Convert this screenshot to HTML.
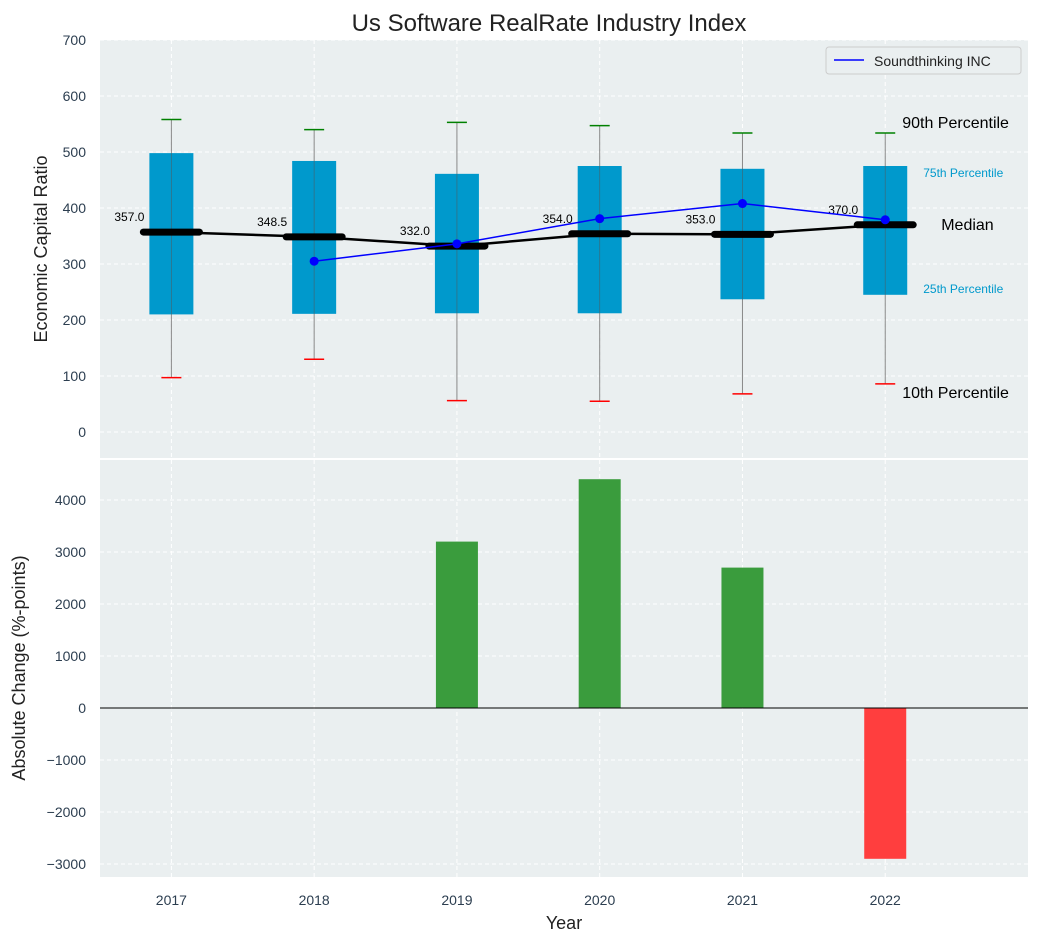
<!DOCTYPE html>
<html><head><meta charset="utf-8"><style>
body{margin:0;background:#fff;font-family:"Liberation Sans","DejaVu Sans",sans-serif}
</style></head><body>
<svg id="c" width="1039" height="942" xmlns="http://www.w3.org/2000/svg"></svg>
<script>
const years=["2017","2018","2019","2020","2021","2022"];
const q1=[210,211,212,212,237,245];
const q3=[498,484,461,475,470,475];
const p10=[97,130,56,55,68,86];
const p90=[558,540,553,547,534,534];
const medians=[357.0,348.5,332.0,354.0,353.0,370.0];
const company=[null,305,336,381,408,379];
const changes=[null,null,3200,4400,2700,-2900];
const topTicks=[0,100,200,300,400,500,600,700];
const botTicks=[-3000,-2000,-1000,0,1000,2000,3000,4000];

const svg=document.getElementById('c');
const NS='http://www.w3.org/2000/svg';
function el(tag,attrs,parent,text){const e=document.createElementNS(NS,tag);for(const k in attrs)e.setAttribute(k,attrs[k]);if(text!==undefined)e.textContent=text;(parent||svg).appendChild(e);return e;}
const L=100,R=1028;
const x=i=>L+(i+0.5)/6.5*(R-L);
const yT=v=>432-v*0.56;
const yB=v=>708-v*0.052;
let bg1=el('rect',{x:L,y:40,width:R-L,height:418,fill:'#eaeff0'});

let bg2=el('rect',{x:L,y:460,width:R-L,height:417,fill:'#eaeff0'});

years.forEach((yr,i)=>{
 el('line',{x1:x(i),x2:x(i),y1:40,y2:458,stroke:'#fff','stroke-dasharray':'4,3'});
 el('line',{x1:x(i),x2:x(i),y1:460,y2:877,stroke:'#fff','stroke-dasharray':'4,3'});
 const t=el('text',{x:x(i),y:905,'text-anchor':'middle','font-size':14,fill:'#2c3e50'},svg,yr);
 
});
topTicks.forEach(v=>{
 el('line',{x1:L,x2:R,y1:yT(v),y2:yT(v),stroke:'#fff','stroke-dasharray':'4,3'});
 const t=el('text',{x:86,y:yT(v)+5,'text-anchor':'end','font-size':14,fill:'#2c3e50'},svg,String(v));
 
});
botTicks.forEach(v=>{
 el('line',{x1:L,x2:R,y1:yB(v),y2:yB(v),stroke:'#fff','stroke-dasharray':'4,3'});
 const t=el('text',{x:86,y:yB(v)+5,'text-anchor':'end','font-size':14,fill:'#2c3e50'},svg,String(v).replace('-','\u2212'));
 
});
years.forEach((yr,i)=>{
 const cx=x(i);
 let w=el('line',{x1:cx,x2:cx,y1:yT(p90[i]),y2:yT(p10[i]),stroke:'#888','stroke-width':1});
 
 let b=el('rect',{x:cx-22,y:yT(q3[i]),width:44,height:yT(q1[i])-yT(q3[i]),fill:'#0099cc'});
 
 el('line',{x1:cx,x2:cx,y1:yT(q3[i]),y2:yT(q1[i]),stroke:'#555','stroke-width':0.8,opacity:0.6});
 let a=el('line',{x1:cx-10,x2:cx+10,y1:yT(p90[i]),y2:yT(p90[i]),stroke:'green','stroke-width':1.5});
 
 let c=el('line',{x1:cx-10,x2:cx+10,y1:yT(p10[i]),y2:yT(p10[i]),stroke:'red','stroke-width':1.5});
 
});
let mp=el('polyline',{points:medians.map((m,i)=>x(i)+','+yT(m)).join(' '),fill:'none',stroke:'#000','stroke-width':2.5});

medians.forEach((m,i)=>{
 let s=el('line',{x1:x(i)-28,x2:x(i)+28,y1:yT(m),y2:yT(m),stroke:'#000','stroke-width':7,'stroke-linecap':'round'});
 
 let t=el('text',{x:x(i)-42,y:yT(m)-11,'text-anchor':'middle','font-size':12,fill:'#000'},svg,m.toFixed(1));
 
});
const pts=company.map((v,i)=>v==null?null:[x(i),yT(v)]).filter(p=>p);
let cl=el('polyline',{points:pts.map(p=>p.join(',')).join(' '),fill:'none',stroke:'#0000ff','stroke-width':1.5});

pts.forEach(p=>{let d=el('circle',{cx:p[0],cy:p[1],r:4.5,fill:'#0000ff'});
 });
const lx=x(5);
[['90th Percentile',lx+17,128,16,'#000'],['75th Percentile',lx+38,177,12,'#0099cc'],['Median',lx+56,230,16,'#000'],['25th Percentile',lx+38,293,12,'#0099cc'],['10th Percentile',lx+17,398,16,'#000']].forEach(a=>{
 let t=el('text',{x:a[1],y:a[2],'font-size':a[3],fill:a[4]},svg,a[0]);
 
});
changes.forEach((v,i)=>{
 if(v==null)return;
 let r=el('rect',{x:x(i)-21,y:Math.min(yB(v),yB(0)),width:42,height:Math.abs(yB(v)-yB(0)),fill:v>=0?'#3a9c3d':'#ff3e3e'});
 
});
el('line',{x1:L,x2:R,y1:yB(0),y2:yB(0),stroke:'#000','stroke-width':1});
const lg=el('g',{});
el('rect',{x:826,y:47,width:195,height:27,fill:'#eaeff0',stroke:'#ccc',rx:3},lg);
el('line',{x1:834,x2:864,y1:60,y2:60,stroke:'#0000ff','stroke-width':1.5},lg);
el('text',{x:874,y:66,'font-size':14,fill:'#222'},lg,'Soundthinking INC');
let tt=el('text',{x:549,y:31,'text-anchor':'middle','font-size':24,fill:'#222'},svg,'Us Software RealRate Industry Index');

let y1=el('text',{x:0,y:0,'text-anchor':'middle','font-size':18,fill:'#222',transform:'translate(47,249) rotate(-90)'},svg,'Economic Capital Ratio');

let y2=el('text',{x:0,y:0,'text-anchor':'middle','font-size':18,fill:'#222',transform:'translate(25,668) rotate(-90)'},svg,'Absolute Change (%-points)');

let xt=el('text',{x:564,y:929,'text-anchor':'middle','font-size':18,fill:'#222'},svg,'Year');

</script>
</body></html>
